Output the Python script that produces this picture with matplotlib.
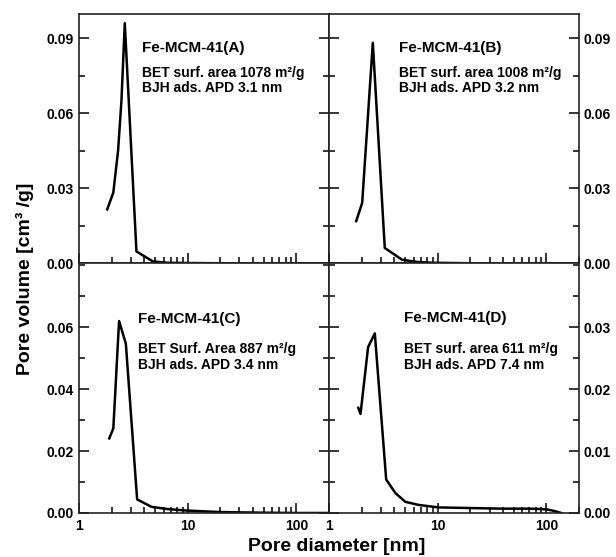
import numpy as np
import matplotlib.pyplot as plt
from matplotlib.ticker import LogLocator, MultipleLocator, FormatStrFormatter, NullFormatter, FixedFormatter, FixedLocator

plt.rcParams['font.family'] = ['Liberation Sans', 'DejaVu Sans']
plt.rcParams['font.weight'] = 'bold'

# pore size distributions (diameter nm, volume cm3/g)
dA = [1.82, 2.07, 2.29, 2.46, 2.64, 3.38, 4.8, 6.5, 9.4, 20, 50, 100, 200]
vA = [0.0216, 0.0283, 0.045, 0.065, 0.0959, 0.0048, 0.0008, 0.0003, 0.0002, 0.0001, 0.0, 0.0, 0.0]

dB = [1.78, 2.02, 2.53, 3.26, 4.7, 6.5, 9.0, 20, 50, 100, 200]
vB = [0.0169, 0.0242, 0.0881, 0.0062, 0.0015, 0.0006, 0.0003, 0.0001, 0.0, 0.0, 0.0]

dC = [1.90, 2.07, 2.14, 2.22, 2.34, 2.70, 3.43, 4.64, 6.4, 9.7, 20, 50, 100, 200]
vC = [0.0241, 0.0273, 0.0365, 0.0472, 0.062, 0.0547, 0.0044, 0.002, 0.0013, 0.0008, 0.0003, 0.0001, 0.0, 0.0]

dD = [1.86, 1.95, 2.29, 2.64, 3.36, 4.09, 5.05, 6.7, 10.2, 20, 40, 70, 100, 120, 137]
vD = [0.0170, 0.0160, 0.0268, 0.0290, 0.0054, 0.0032, 0.0018, 0.0013, 0.0009, 0.0008, 0.0007, 0.0007, 0.0006, 0.0003, 0.0]

names = ["Fe-MCM-41(A)", "Fe-MCM-41(B)", "Fe-MCM-41(C)", "Fe-MCM-41(D)"]
notes = ["BET surf. area 1078 m²/g\nBJH ads. APD 3.1 nm",
         "BET surf. area 1008 m²/g\nBJH ads. APD 3.2 nm",
         "BET Surf. Area 887 m²/g\nBJH ads. APD 3.4 nm",
         "BET surf. area 611 m²/g\nBJH ads. APD 7.4 nm"]

ylims = [0.0996, 0.0996, 0.0806, 0.0403]
yticks = [[0, 0.03, 0.06, 0.09], [0, 0.03, 0.06, 0.09],
          [0, 0.02, 0.04, 0.06], [0, 0.01, 0.02, 0.03]]
yminor = [0.015, 0.015, 0.01, 0.005]

fig, axes = plt.subplots(2, 2, figsize=(6.16, 5.57), dpi=100)
plt.subplots_adjust(left=0.1282, right=0.940, top=0.9749, bottom=0.079, hspace=0, wspace=0)

data = [(dA, vA), (dB, vB), (dC, vC), (dD, vD)]
txtpos = [(0.251, 0.863, 0.734), (0.281, 0.863, 0.734), (0.235, 0.777, 0.625), (0.30, 0.78, 0.625)]

for i, ax in enumerate(axes.flat):
    d, v = data[i]
    ax.plot(d, v, color='black', lw=1.8)
    ax.set_xscale('log')
    ax.set_xlim(1, 200)
    ax.set_ylim(0, ylims[i])
    ax.xaxis.set_major_locator(FixedLocator([1, 10, 100]))
    ax.xaxis.set_major_formatter(FixedFormatter(['1', '10', '100']))
    ax.xaxis.set_minor_locator(LogLocator(base=10, subs=np.arange(2, 10)))
    ax.xaxis.set_minor_formatter(NullFormatter())
    ax.yaxis.set_major_locator(FixedLocator(yticks[i]))
    ax.yaxis.set_minor_locator(MultipleLocator(yminor[i]))
    ax.yaxis.set_major_formatter(FormatStrFormatter('%.2f'))
    ax.tick_params(axis='x', which='both', direction='in', top=False, bottom=True)
    ax.tick_params(axis='y', which='both', direction='in', left=True, right=True)
    ax.tick_params(which='major', length=7, width=1.1, labelsize=10, pad=4)
    ax.tick_params(which='minor', length=4, width=1.1)
    for s in ax.spines.values():
        s.set_linewidth(1.2)
        s.set_color('#222222')
    if i % 2 == 1:
        ax.tick_params(axis='y', labelleft=False, labelright=True, pad=3)
    if i < 2:
        ax.tick_params(axis='x', labelbottom=False)
    tx, ty1, ty2 = txtpos[i]
    ax.text(tx, ty1, names[i], transform=ax.transAxes, fontsize=11, fontweight='bold', va='center')
    ax.text(tx, ty2, notes[i], transform=ax.transAxes, fontsize=10, fontweight='bold',
            va='center', linespacing=1.15)

fig.text(0.041, 0.5, "Pore volume [cm³ /g]", rotation=90, ha='center', va='center',
         fontsize=14, fontweight='bold')
fig.text(0.547, 0.018, "Pore diameter [nm]", ha='center', va='center', fontsize=14, fontweight='bold')

plt.savefig("out.png", dpi=100)
